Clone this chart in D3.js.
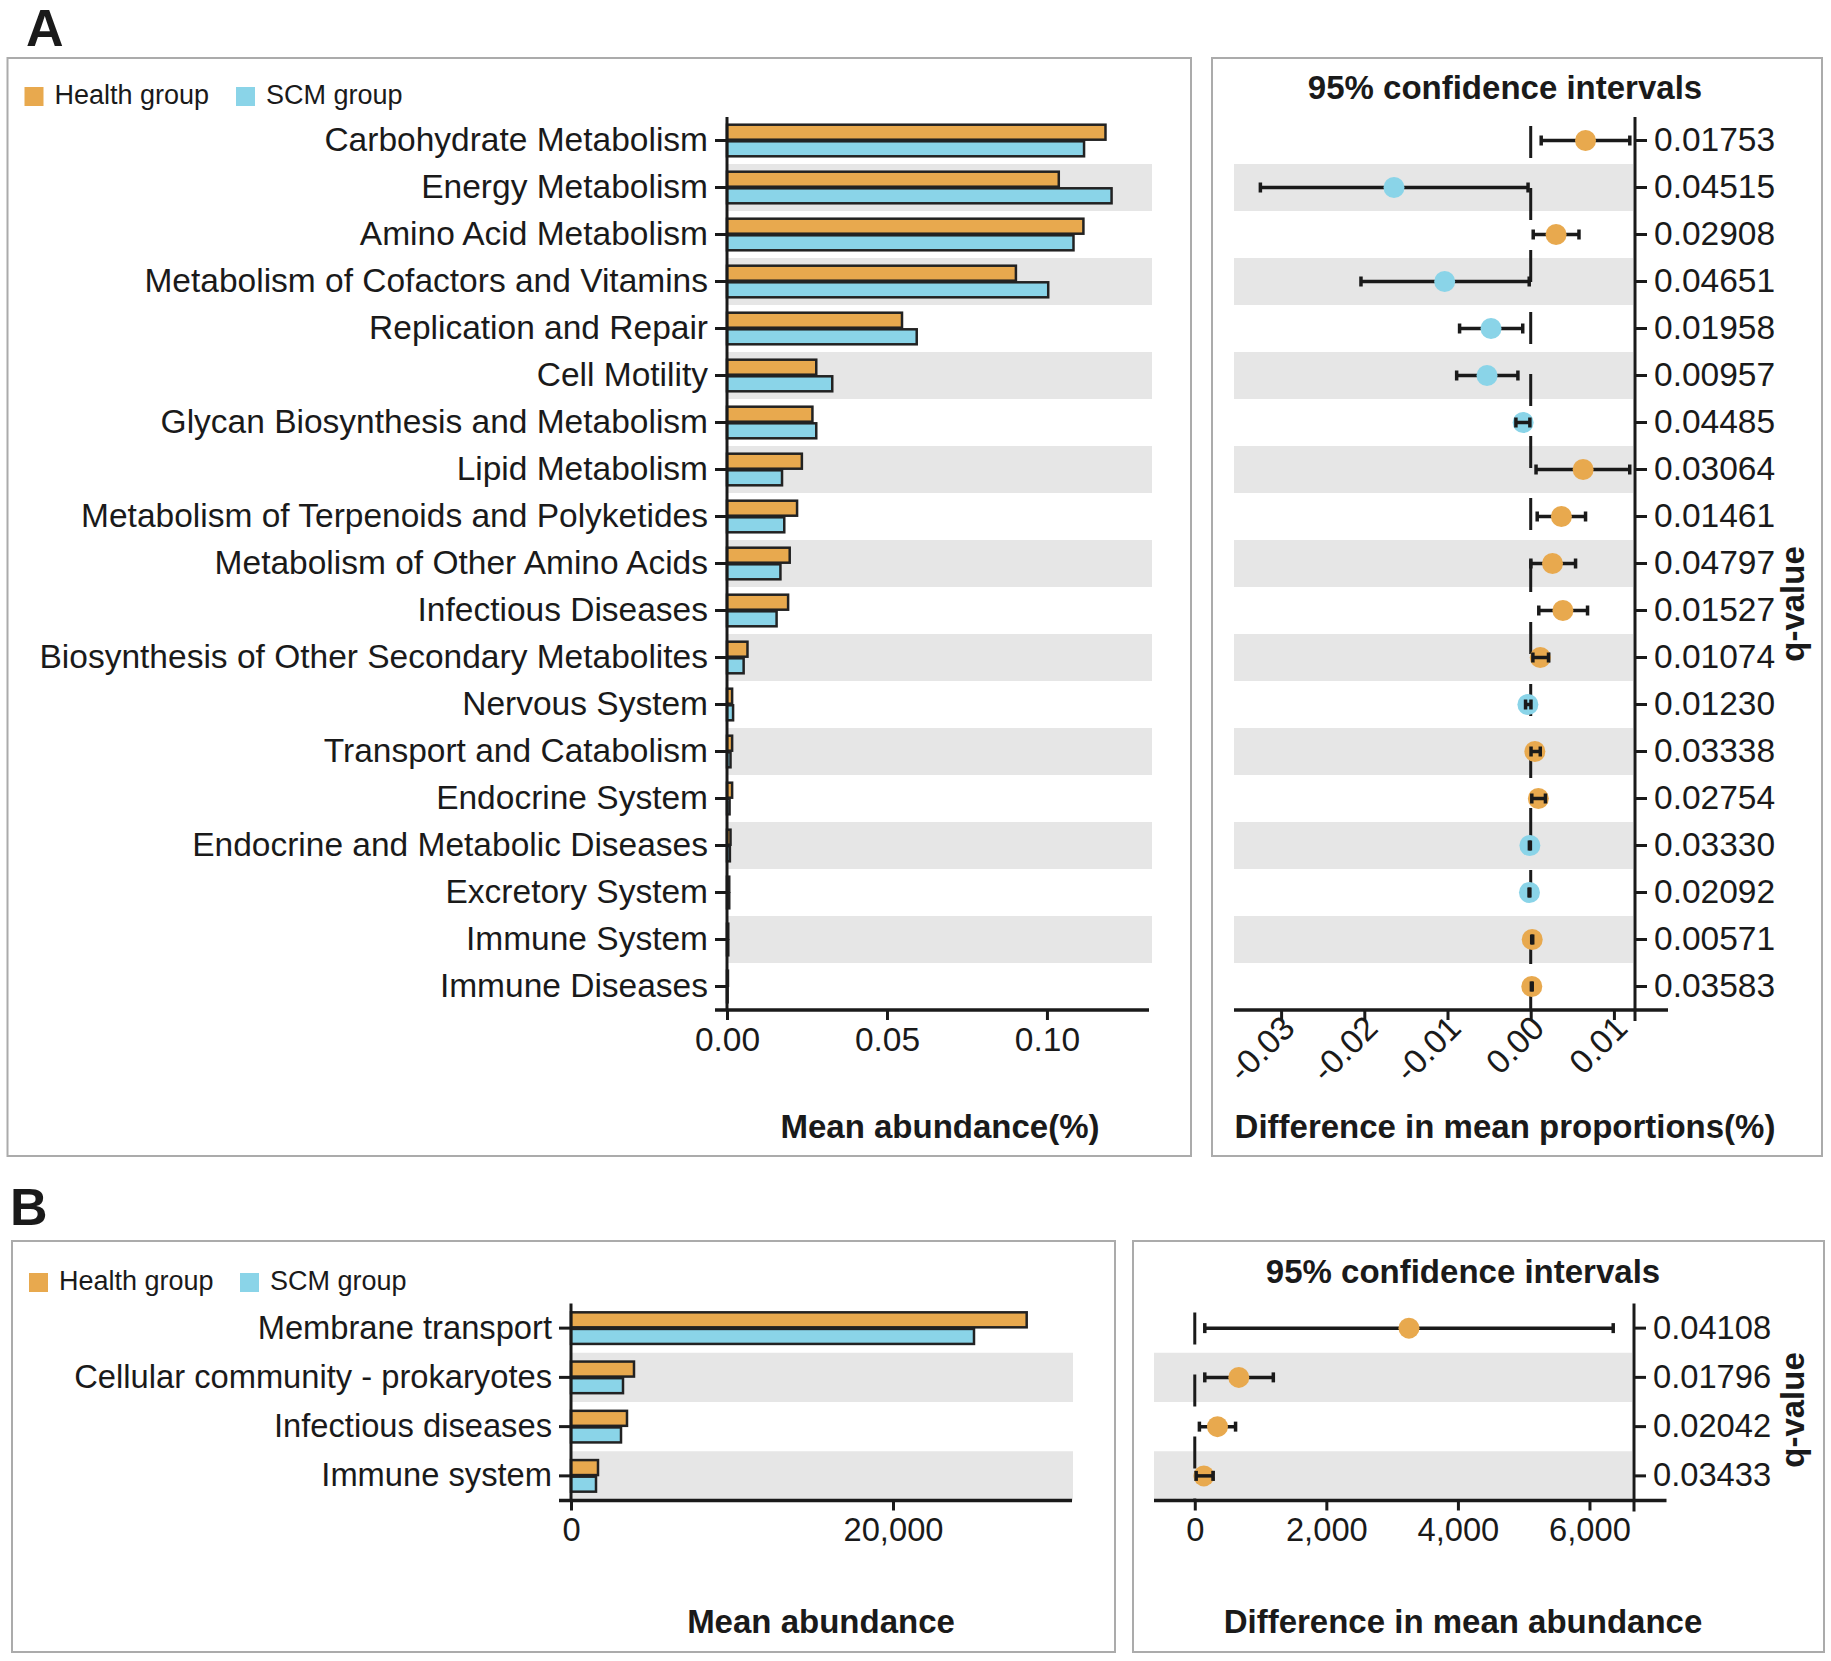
<!DOCTYPE html>
<html>
<head>
<meta charset="utf-8">
<script src="https://cdn.jsdelivr.net/npm/d3@7"></script>
<style>
  body { margin: 0; background: #fff; }
  text { font-family: "Liberation Sans", Arial, Helvetica, sans-serif; fill: #1a1a1a; }
</style>
</head>
<body>
<div class="chart"></div>
<script>
// ---- panel A data ----
var pathwaysA = ['Carbohydrate Metabolism', 'Energy Metabolism', 'Amino Acid Metabolism',
  'Metabolism of Cofactors and Vitamins', 'Replication and Repair', 'Cell Motility',
  'Glycan Biosynthesis and Metabolism', 'Lipid Metabolism', 'Metabolism of Terpenoids and Polyketides',
  'Metabolism of Other Amino Acids', 'Infectious Diseases', 'Biosynthesis of Other Secondary Metabolites',
  'Nervous System', 'Transport and Catabolism', 'Endocrine System', 'Endocrine and Metabolic Diseases',
  'Excretory System', 'Immune System', 'Immune Diseases'];
var healthA = [0.1183, 0.1037, 0.1114, 0.0903, 0.0547, 0.0279, 0.0267, 0.0234, 0.0219, 0.0196,
  0.0191, 0.0064, 0.0016, 0.0016, 0.0016, 0.0011, 0.0007, 0.0004, 0.0003];
var scmA = [0.1116, 0.1202, 0.1083, 0.1004, 0.0593, 0.0329, 0.0279, 0.0172, 0.0179, 0.0167,
  0.0155, 0.0052, 0.0019, 0.0011, 0.0008, 0.0009, 0.0007, 0.0004, 0.0002];
var diffA = [0.00659, -0.01643, 0.00305, -0.01034, -0.00477, -0.00525, -0.00091, 0.0063, 0.00369, 0.00262,
  0.00387, 0.00115, -0.00034, 0.0005, 0.00092, -0.0001, -0.00015, 0.00018, 0.00013];
var lowA = [0.00126, -0.03249, 0.0003, -0.0204, -0.00855, -0.0089, -0.00178, 0.00064, 0.00078, 0.00002,
  0.00097, 0.00026, -0.00062, 0.00004, 0.00013, -0.00016, -0.0002, 0.00012, 0.00008];
var highA = [0.01191, -0.00032, 0.0058, -0.00018, -0.00096, -0.00154, -0.0001, 0.0119, 0.00659, 0.00539,
  0.00683, 0.00214, 0.00003, 0.00115, 0.00177, -0.00004, -0.0001, 0.00024, 0.00018];
var qA = ['0.01753', '0.04515', '0.02908', '0.04651', '0.01958', '0.00957', '0.04485', '0.03064', '0.01461',
  '0.04797', '0.01527', '0.01074', '0.01230', '0.03338', '0.02754', '0.03330', '0.02092', '0.00571', '0.03583'];
var barTicksA = [0, 0.05, 0.10];
var ciTicksA = [-0.03, -0.02, -0.01, 0, 0.01];

// ---- panel B data ----
var pathwaysB = ['Membrane transport', 'Cellular community - prokaryotes', 'Infectious diseases', 'Immune system'];
var healthB = [28304, 3913, 3478, 1677];
var scmB = [25031, 3230, 3106, 1553];
var diffB = [3256, 669, 345, 138];
var lowB = [152, 152, 70, 21];
var highB = [6361, 1194, 620, 277];
var qB = ['0.04108', '0.01796', '0.02042', '0.03433'];
var barTicksB = [0, 20000];
var ciTicksB = [0, 2000, 4000, 6000];

var groups = ['Health group', 'SCM group'];
var ORANGE = '#e8a94e', BLUE = '#8ad4e8', BAND = '#e6e6e6', INK = '#1a1a1a';

//plain hyphen for negative tick labels
var fmt = d3.formatLocale({ decimal: '.', thousands: ',', grouping: [3], currency: ['$', ''], minus: '-' }).format;

var svg = d3.select('.chart').append('svg').attr('width', 1831).attr('height', 1661);

function drawPanel(p) {
  var g = svg.append('g');
  var FS = p.fontSize;

  //panel letter and frames
  g.append('text').attr('x', p.letterX).attr('y', p.letterY).text(p.letter)
    .style('font-size', '52px').style('font-weight', 'bold');
  [p.boxL, p.boxR].forEach(function (b) {
    g.append('rect').attr('x', b[0]).attr('y', p.boxTop).attr('width', b[1] - b[0])
      .attr('height', p.boxBottom - p.boxTop).attr('fill', 'none')
      .attr('stroke', '#ababab').attr('stroke-width', 2);
  });

  //legend
  var lg = g.append('g').attr('transform', 'translate(' + p.legX + ',' + p.legY + ')');
  var legX = [0, p.legGap];
  groups.forEach(function (name, i) {
    lg.append('rect').attr('x', legX[i]).attr('y', -17).attr('width', 19).attr('height', 19)
      .attr('fill', i === 0 ? ORANGE : BLUE);
    lg.append('text').attr('x', legX[i] + 30).attr('y', 0).text(name).style('font-size', '27px');
  });

  var y = d3.scaleBand().domain(p.cats).range(p.rows);
  var x = d3.scaleLinear().domain(p.barDomain).range(p.barRange);
  var xc = d3.scaleLinear().domain(p.ciDomain).range(p.ciRange);
  var mid = function (d) { return y(d) + y.bandwidth() / 2; };
  var x0 = x(0);

  //gray stripes on every second row
  var striped = p.cats.filter(function (d, i) { return i % 2 === 1; });
  g.selectAll('.bandL').data(striped).enter().append('rect')
    .attr('x', x0).attr('y', function (d) { return y(d); })
    .attr('width', p.bandRight - x0).attr('height', y.bandwidth()).attr('fill', BAND);
  g.selectAll('.bandR').data(striped).enter().append('rect')
    .attr('x', p.ciRange[0]).attr('y', function (d) { return y(d); })
    .attr('width', p.qAxisX - 2 - p.ciRange[0]).attr('height', y.bandwidth()).attr('fill', BAND);

  //bars, health on top and SCM below
  var bh = 15;
  g.selectAll('.barH').data(p.cats).enter().append('rect')
    .attr('x', x0).attr('y', function (d) { return mid(d) - bh - 0.8; })
    .attr('width', function (d, i) { return x(p.health[i]) - x0; }).attr('height', bh)
    .attr('fill', ORANGE).attr('stroke', '#222').attr('stroke-width', 2.5);
  g.selectAll('.barS').data(p.cats).enter().append('rect')
    .attr('x', x0).attr('y', function (d) { return mid(d) + 0.8; })
    .attr('width', function (d, i) { return x(p.scm[i]) - x0; }).attr('height', bh)
    .attr('fill', BLUE).attr('stroke', '#222').attr('stroke-width', 2.5);

  //category axis
  var ya = g.append('g').attr('transform', 'translate(' + x0 + ',0)')
    .call(d3.axisLeft(y).tickSize(12).tickPadding(7).tickSizeOuter(0));
  ya.select('.domain').remove();
  ya.selectAll('line').attr('stroke', INK).attr('stroke-width', 3);
  ya.selectAll('text').style('font-size', FS);
  g.append('line').attr('x1', x0).attr('x2', x0).attr('y1', p.rows[0]).attr('y2', p.rows[1])
    .attr('stroke', INK).attr('stroke-width', 3);

  //abundance axis
  var xa = g.append('g').attr('transform', 'translate(0,' + p.rows[1] + ')')
    .call(d3.axisBottom(x).tickValues(p.barTicks).tickFormat(p.barFmt).tickSize(10).tickPadding(7));
  xa.select('.domain').remove();
  xa.selectAll('line').attr('stroke', INK).attr('stroke-width', 3);
  xa.selectAll('text').style('font-size', FS);
  g.append('line').attr('x1', x0 - 12).attr('x2', p.barRange[1]).attr('y1', p.rows[1]).attr('y2', p.rows[1])
    .attr('stroke', INK).attr('stroke-width', 3.5);

  g.append('text').attr('x', p.barTitleX).attr('y', p.axisTitleY).attr('text-anchor', 'middle')
    .text(p.barTitle).style('font-size', '33px').style('font-weight', 'bold');

  //confidence interval panel
  g.append('text').attr('x', p.ciTitleX).attr('y', p.ciTopY).attr('text-anchor', 'middle')
    .text('95% confidence intervals').style('font-size', '33px').style('font-weight', 'bold');

  g.append('line').attr('x1', xc(0)).attr('x2', xc(0)).attr('y1', p.rows[0]).attr('y2', p.rows[1])
    .attr('stroke', INK).attr('stroke-width', 3)
    .attr('stroke-dasharray', '32,30').attr('stroke-dashoffset', 53);

  function errorBars(sel) {
    sel.append('line')
      .attr('x1', function (d) { return xc(p.low[d]); }).attr('x2', function (d) { return xc(p.high[d]); })
      .attr('y1', function (d) { return mid(p.cats[d]); }).attr('y2', function (d) { return mid(p.cats[d]); })
      .attr('stroke', INK).attr('stroke-width', 3.5);
    ['low', 'high'].forEach(function (k) {
      sel.append('line')
        .attr('x1', function (d) { return xc(p[k][d]); }).attr('x2', function (d) { return xc(p[k][d]); })
        .attr('y1', function (d) { return mid(p.cats[d]) - 5; }).attr('y2', function (d) { return mid(p.cats[d]) + 5; })
        .attr('stroke', INK).attr('stroke-width', 3.5);
    });
  }
  var idx = d3.range(p.cats.length);
  errorBars(g.selectAll('.eb').data(idx).enter().append('g'));
  g.selectAll('.pt').data(idx).enter().append('circle')
    .attr('cx', function (d) { return xc(p.diff[d]); }).attr('cy', function (d) { return mid(p.cats[d]); })
    .attr('r', 10.5).attr('fill', function (d) { return p.diff[d] < 0 ? BLUE : ORANGE; });
  //short intervals sit inside the dot, so they are drawn again on top
  errorBars(g.selectAll('.eb2').data(idx.filter(function (d) {
    return xc(p.high[d]) - xc(p.low[d]) < 20;
  })).enter().append('g'));

  //difference axis
  var xca = g.append('g').attr('transform', 'translate(0,' + p.rows[1] + ')')
    .call(d3.axisBottom(xc).tickValues(p.ciTicks).tickFormat(p.ciFmt).tickSize(10).tickPadding(7));
  xca.select('.domain').remove();
  xca.selectAll('line').attr('stroke', INK).attr('stroke-width', 3);
  xca.selectAll('text').style('font-size', FS);
  if (p.rotate) {
    xca.selectAll('text').attr('y', 0).attr('dy', 0).style('text-anchor', 'end')
      .attr('transform', 'translate(15,20) rotate(-45)');
  }
  g.append('line').attr('x1', p.ciRange[0]).attr('x2', p.ciRange[1]).attr('y1', p.rows[1]).attr('y2', p.rows[1])
    .attr('stroke', INK).attr('stroke-width', 3.5);

  //q-value axis
  var qa = g.append('g').attr('transform', 'translate(' + p.qAxisX + ',0)')
    .call(d3.axisRight(y).tickFormat(function (d, i) { return p.q[i]; }).tickSize(12).tickPadding(7).tickSizeOuter(0));
  qa.select('.domain').remove();
  qa.selectAll('line').attr('stroke', INK).attr('stroke-width', 3);
  qa.selectAll('text').style('font-size', FS);
  g.append('line').attr('x1', p.qAxisX).attr('x2', p.qAxisX).attr('y1', p.rows[0]).attr('y2', p.rows[1] + 11)
    .attr('stroke', INK).attr('stroke-width', 3);
  g.append('text').attr('transform', 'translate(1804,' + p.qLabelY + ') rotate(-90)')
    .attr('text-anchor', 'middle').text('q-value')
    .style('font-size', '33px').style('font-weight', 'bold');

  g.append('text').attr('x', p.ciTitleX).attr('y', p.axisTitleY).attr('text-anchor', 'middle')
    .text(p.ciTitle).style('font-size', '33px').style('font-weight', 'bold');
}

drawPanel({
  letter: 'A', letterX: 26, letterY: 46, fontSize: '33.5px',
  boxTop: 58, boxBottom: 1156, boxL: [7.5, 1191], boxR: [1212, 1822],
  legX: 24.5, legY: 104, legGap: 211.5,
  cats: pathwaysA, health: healthA, scm: scmA, diff: diffA, low: lowA, high: highA, q: qA,
  rows: [117, 1010],
  barDomain: [0, 0.1319], barRange: [727, 1149], bandRight: 1152,
  barTicks: barTicksA, barFmt: fmt('.2f'),
  ciDomain: [-0.03566, 0.0165], ciRange: [1234, 1668], ciTicks: ciTicksA, ciFmt: fmt('.2f'),
  rotate: true, qAxisX: 1635, qLabelY: 604,
  barTitle: 'Mean abundance(%)', barTitleX: 940,
  ciTitle: 'Difference in mean proportions(%)', ciTitleX: 1505, ciTopY: 99,
  axisTitleY: 1138
});

drawPanel({
  letter: 'B', letterX: 10, letterY: 1225, fontSize: '32.7px',
  boxTop: 1241, boxBottom: 1652, boxL: [12, 1115], boxR: [1133, 1824],
  legX: 29, legY: 1290, legGap: 211,
  cats: pathwaysB, health: healthB, scm: scmB, diff: diffB, low: lowB, high: highB, q: qB,
  rows: [1303.5, 1500.5],
  barDomain: [0, 31118], barRange: [571, 1072], bandRight: 1073,
  barTicks: barTicksB, barFmt: fmt(','),
  ciDomain: [-620, 7171], ciRange: [1154, 1666.5], ciTicks: ciTicksB, ciFmt: fmt(','),
  rotate: false, qAxisX: 1634, qLabelY: 1410,
  barTitle: 'Mean abundance', barTitleX: 821,
  ciTitle: 'Difference in mean abundance', ciTitleX: 1463, ciTopY: 1283,
  axisTitleY: 1633
});
</script>
</body>
</html>
